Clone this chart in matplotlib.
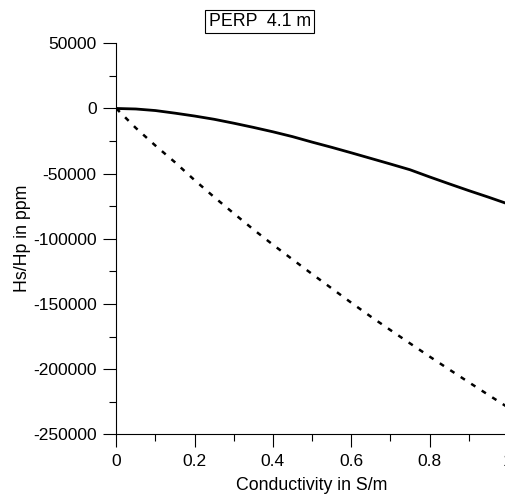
import matplotlib
matplotlib.use("Agg")
import matplotlib.pyplot as plt
from matplotlib.ticker import MultipleLocator

plt.rcParams['font.family'] = ['Liberation Sans', 'DejaVu Sans']
plt.rcParams['axes.unicode_minus'] = False

conductivity = [0.0, 0.05, 0.1, 0.15, 0.2, 0.25, 0.3, 0.35, 0.4, 0.45, 0.5,
                0.55, 0.6, 0.65, 0.7, 0.75, 0.8, 0.85, 0.9, 0.95, 1.0]
inphase = [0, -400, -1600, -3600, -5800, -8300, -11300, -14500, -17900, -21600, -25800,
           -29800, -34000, -38300, -42600, -47000, -52500, -57800, -63000, -68000, -73200]
quadrature = [0, -15000, -28500, -41300, -55000, -68000, -80500, -92800, -104500, -115800, -127000,
              -138000, -149000, -159700, -170000, -180200, -190300, -200200, -210000, -219700, -229300]
title_text = "PERP  4.1 m"
xlabel = "Conductivity in S/m"
ylabel = "Hs/Hp in ppm"

fig = plt.figure(figsize=(5.06, 5.00), dpi=100)
ax = fig.add_axes([0.2298, 0.1314, 0.7738, 0.782])

ax.plot(conductivity, inphase, color='black', lw=2.0, solid_capstyle='butt')
ax.plot(conductivity, quadrature, color='black', lw=1.8, linestyle=(0, (2.0, 3.0)))

ax.set_xlim(0, 1.0)
ax.set_ylim(-250000, 50000)
ax.xaxis.set_major_locator(MultipleLocator(0.2))
ax.xaxis.set_minor_locator(MultipleLocator(0.1))
ax.yaxis.set_major_locator(MultipleLocator(50000))
ax.yaxis.set_minor_locator(MultipleLocator(25000))
ax.xaxis.set_major_formatter(plt.FuncFormatter(lambda v, p: "0" if abs(v) < 1e-9 else f"{v:g}"))
ax.yaxis.set_major_formatter(plt.FuncFormatter(lambda v, p: f"{int(round(v))}"))

for s in ['top', 'right']:
    ax.spines[s].set_visible(False)
for s in ['left', 'bottom']:
    ax.spines[s].set_linewidth(0.8)
    ax.spines[s].set_color('black')

ax.tick_params(which='major', direction='out', length=9.4, width=0.8, pad=4.7,
               labelsize=12.5, colors='black')
ax.tick_params(which='minor', direction='out', length=4.7, width=0.8, colors='black')

ax.set_xlabel(xlabel, fontsize=12.8)
ax.set_ylabel(ylabel, fontsize=12.8)
ax.xaxis.set_label_coords(0.5, -0.108)
ax.yaxis.set_label_coords(-0.218, 0.5)

fig.text(0.513, 0.9574, title_text, ha='center', va='center', fontsize=12.8,
         bbox=dict(boxstyle='square,pad=0.17', fc='white', ec='black', lw=0.8))

fig.savefig("out.png", dpi=100)
